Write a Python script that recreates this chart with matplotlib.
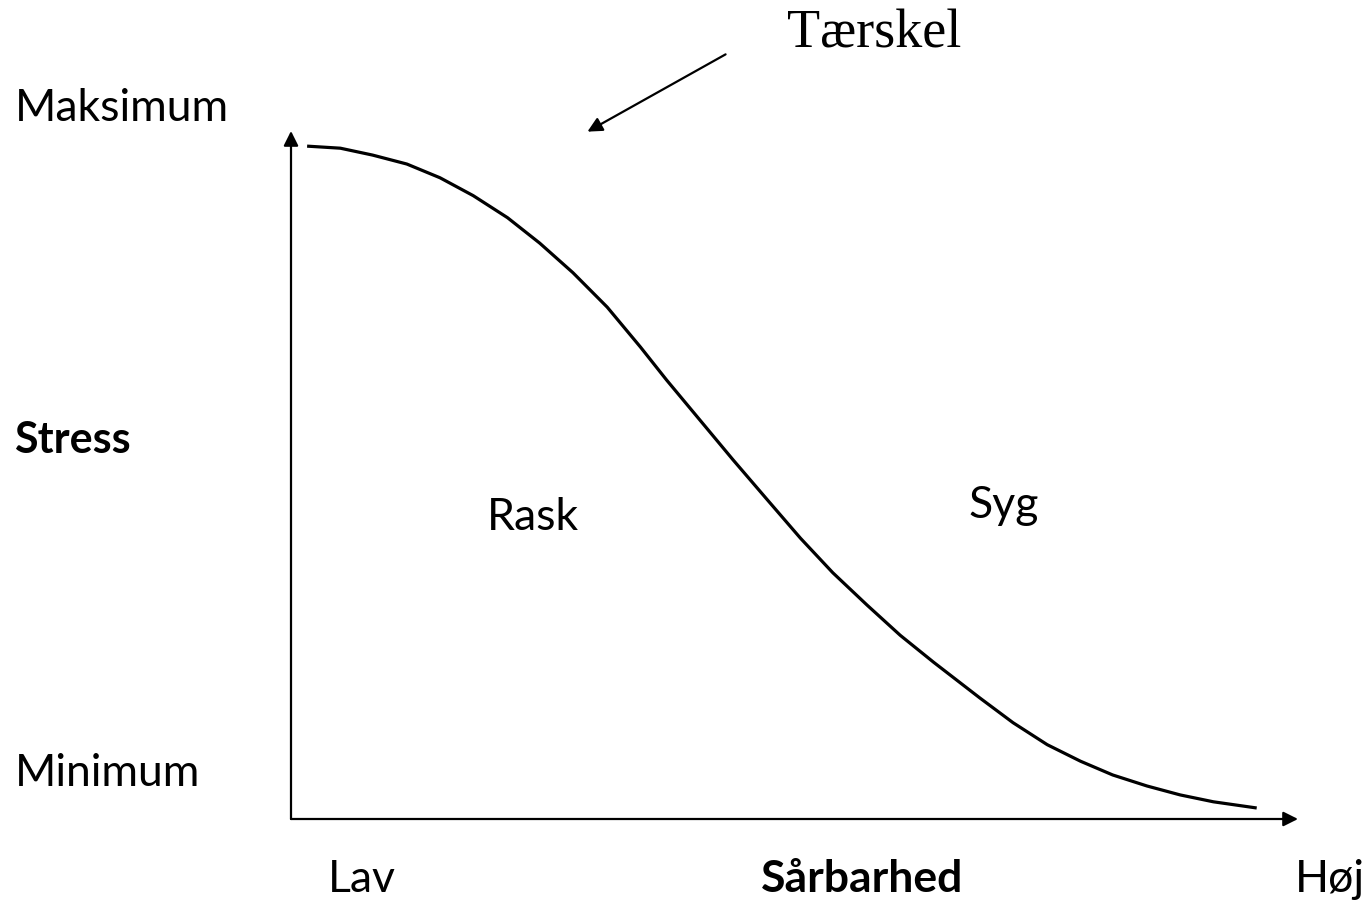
import matplotlib
matplotlib.use("Agg")
from matplotlib import pyplot as plt
from matplotlib.patches import FancyArrowPatch

W, H = 1365, 911

# stress threshold curve (x: vulnerability 0-100, y: stress 0-100)
curve_x = [1.6, 4.9, 8.1, 11.5, 14.8, 18.1, 21.5, 24.7, 28.0, 31.4,
           34.7, 37.3, 40.6, 43.9, 47.3, 50.6, 53.8, 57.2, 60.5, 63.8,
           68.4, 71.7, 75.1, 78.4, 81.6, 85.0, 88.3, 91.6, 95.9]
curve_y = [97.8, 97.5, 96.5, 95.2, 93.2, 90.6, 87.4, 83.7, 79.4, 74.4,
           68.6, 63.8, 58.0, 52.2, 46.4, 40.8, 35.8, 31.1, 26.7, 22.8,
           17.6, 14.0, 10.8, 8.4, 6.4, 4.8, 3.5, 2.5, 1.6]

FONT = ['Lato', 'DejaVu Sans']
SIZE = 32
BOLD_SIZE = 32

fig = plt.figure(figsize=(W / 100, H / 100), dpi=100)
# axes box: origin at (291, 819) px, arrow tips at (1298, 819) and (291, 131)
ax = fig.add_axes([291 / W, 1 - 819 / H, (1298 - 291) / W, (819 - 131) / H])
ax.set_xlim(0, 100)
ax.set_ylim(0, 100)
ax.axis('off')

arrow = dict(arrowstyle='-|>', color='black', lw=1.6, mutation_scale=22,
             shrinkA=0, shrinkB=0)
ax.annotate('', xy=(1, 0), xytext=(0, 0), xycoords='axes fraction', arrowprops=arrow)
ax.annotate('', xy=(0, 1), xytext=(0, 0), xycoords='axes fraction', arrowprops=arrow)

ax.plot(curve_x, curve_y, color='black', lw=2.3, solid_capstyle='butt',
        solid_joinstyle='round')


def px(x, y):
    return x / W, 1 - y / H


# threshold label + arrow
fig.text(*px(787, 47), 'Tærskel', family=['Liberation Serif'], fontsize=39,
         ha='left', va='baseline')
fig.add_artist(FancyArrowPatch(
    px(728, 53), px(585, 133), transform=fig.transFigure,
    arrowstyle='-|>', color='black', lw=1.6, mutation_scale=22))

fig.text(*px(15, 121), 'Maksimum', family=FONT, fontsize=SIZE, va='baseline')
fig.text(*px(14, 453), 'Stress', family=FONT, fontsize=BOLD_SIZE - 1, fontweight='bold', va='baseline')
fig.text(*px(15, 786), 'Minimum', family=FONT, fontsize=SIZE, va='baseline')
fig.text(*px(487, 530), 'Rask', family=FONT, fontsize=SIZE, va='baseline')
fig.text(*px(968, 518), 'Syg', family=FONT, fontsize=SIZE, va='baseline')
fig.text(*px(328, 892), 'Lav', family=FONT, fontsize=SIZE, va='baseline')
fig.text(*px(862, 892), 'Sårbarhed', family=FONT, fontsize=BOLD_SIZE, fontweight='bold',
         ha='center', va='baseline')
fig.text(*px(1295, 892), 'Høj', family=FONT, fontsize=SIZE, va='baseline')

fig.savefig('out.png', dpi=100)
